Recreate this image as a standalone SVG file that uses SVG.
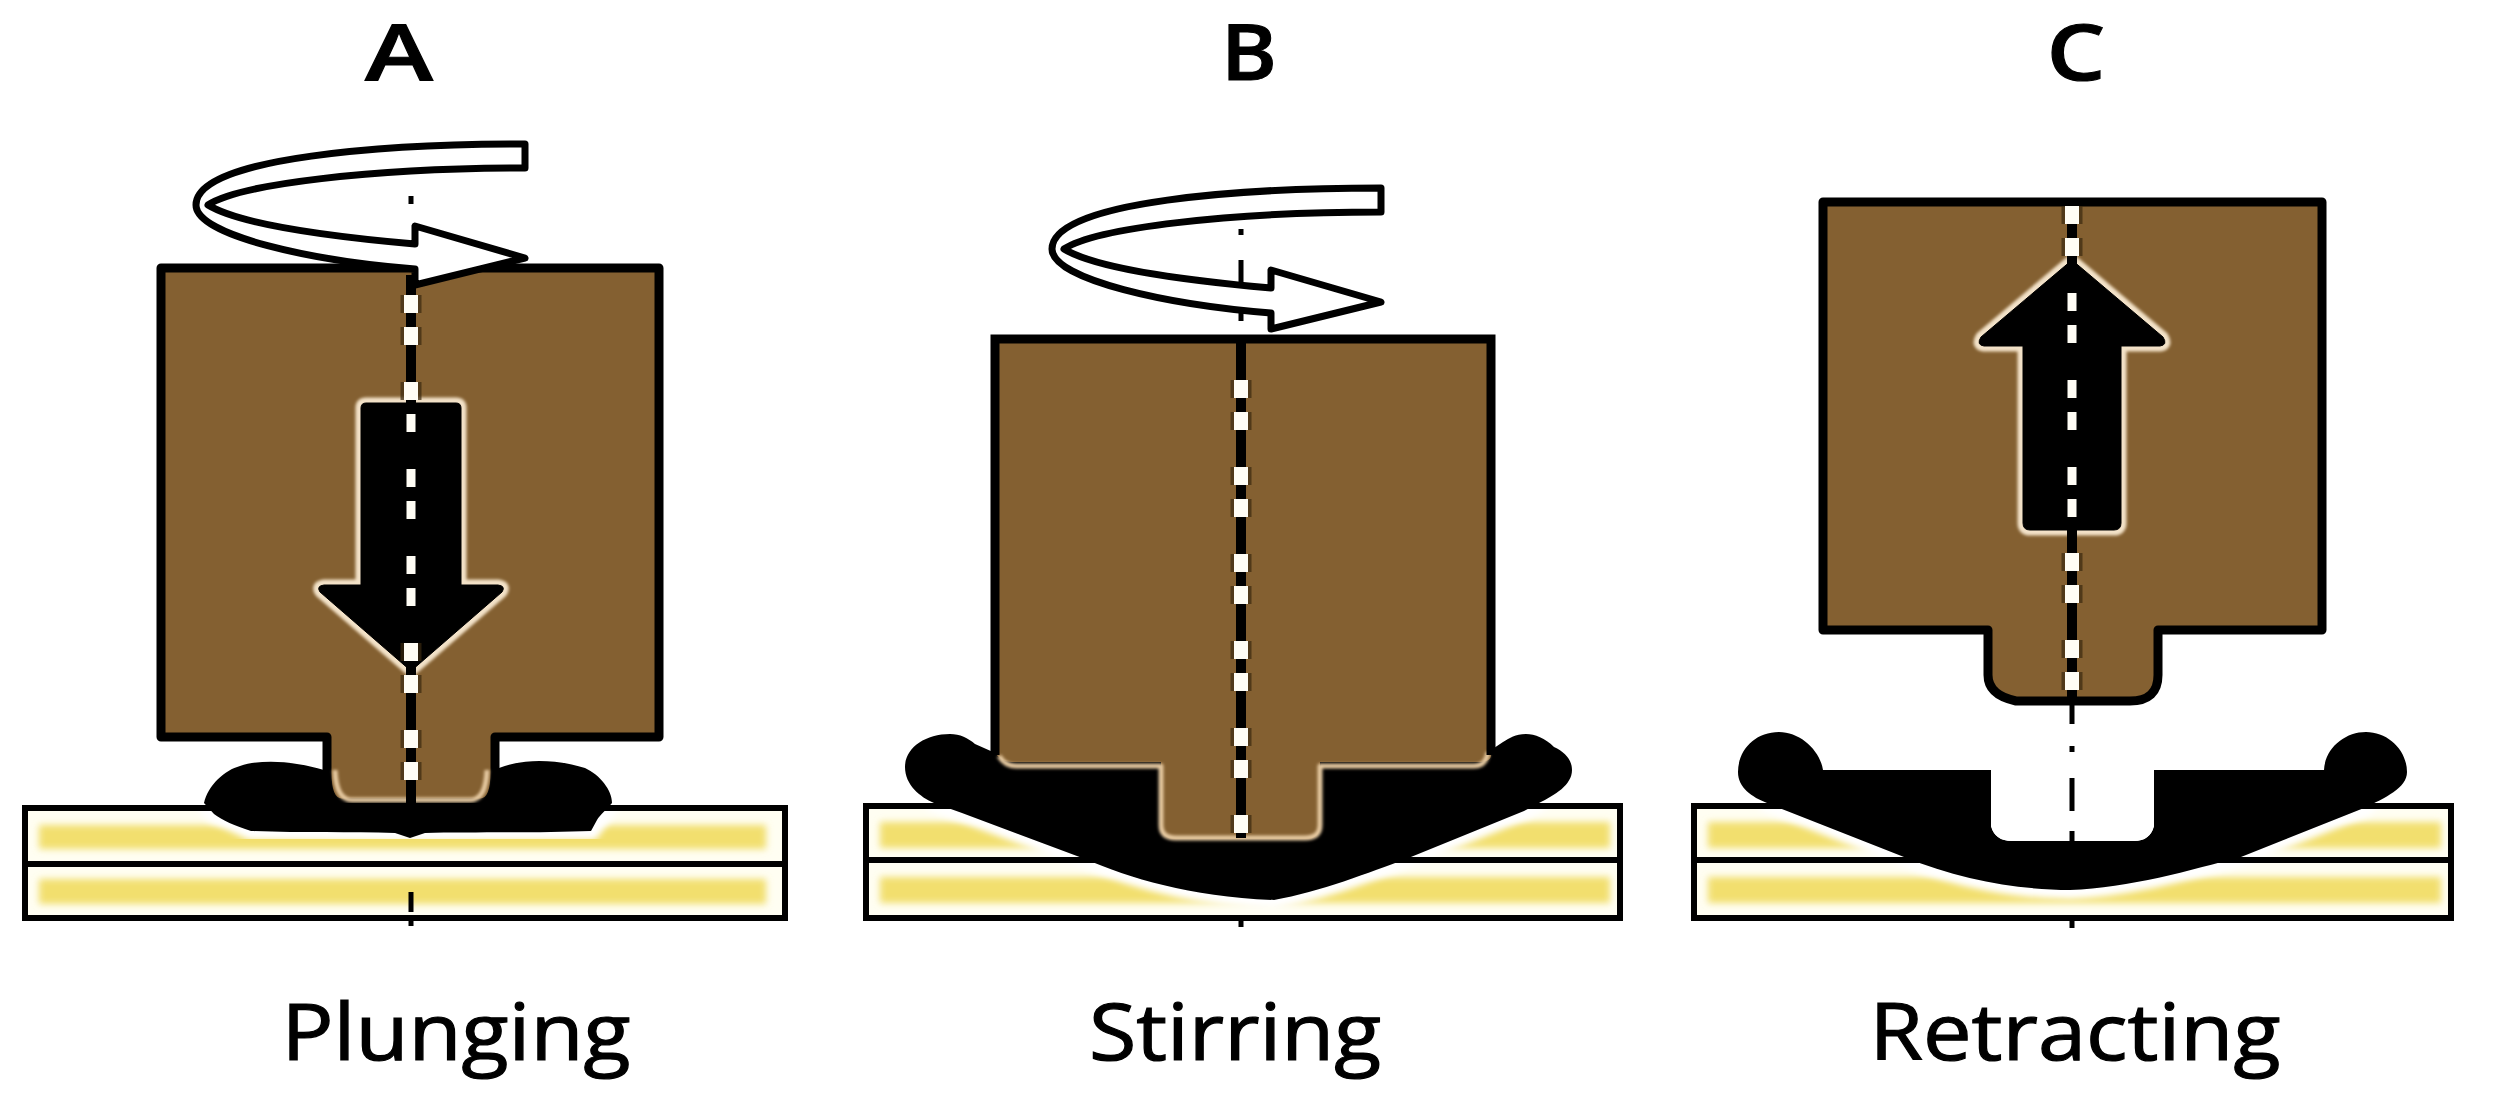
<svg xmlns="http://www.w3.org/2000/svg" width="2512" height="1102" viewBox="0 0 2512 1102">
<style>
.bg{fill:#fff}
.plate{fill:#fffef2}
.band{fill:#f2df6e;filter:url(#b4)}
.line{fill:none;stroke:#000;stroke-width:6}
.blob{fill:#000}
.halo{fill:#fff;stroke:#fff;stroke-width:18;stroke-linejoin:round;filter:url(#b3)}
.block{fill:#846031;stroke:#000;stroke-width:9;stroke-linejoin:round}
.bodyfill{fill:#846031}
.fringe{fill:none;stroke:#e6c9a0;stroke-width:5;stroke-linejoin:round;filter:url(#b2)}
.arrh{fill:none;stroke:#f3e2c8;stroke-width:11;stroke-linejoin:round;filter:url(#b2)}
.arr{fill:#000;stroke:#000;stroke-width:1;stroke-linejoin:round}
.spin{fill:#fff;stroke:#000;stroke-width:7;stroke-linejoin:round}
.axb{stroke:#000;stroke-width:10;fill:none}
.axe{stroke:#3a2a10;stroke-width:21;stroke-dasharray:18 14 18 37;fill:none;opacity:.7}
.axw{stroke:#fffdf5;stroke-width:14;stroke-dasharray:18 14 18 37;fill:none}
.axa{stroke:#fffdf5;stroke-width:9;stroke-dasharray:18 14 18 37;fill:none}
.ax{stroke:#000;stroke-width:5;fill:none}
.t{font-family:"Open Sans","Liberation Sans",sans-serif;fill:#000;text-anchor:middle}
.h{font-size:78px;font-weight:600;stroke:#000;stroke-width:1}
.l{font-size:78px;stroke:#000;stroke-width:1.2}
</style>
<defs>
<filter id="b2" x="-10%" y="-10%" width="120%" height="120%"><feGaussianBlur stdDeviation="1.6"/></filter>
<filter id="b3" x="-10%" y="-20%" width="120%" height="140%"><feGaussianBlur stdDeviation="3"/></filter>
<filter id="b4" x="-5%" y="-40%" width="110%" height="180%"><feGaussianBlur stdDeviation="3.5"/></filter>
<path id="spinner" d="M1381,188 C1250,188 1052,200 1052,249 C1052,280 1170,305 1271,313 L1271,329 L1381,302 L1271,270 L1271,288 C1180,280 1095,268 1064,249 C1095,228 1230,212 1381,212 Z"/>
<path id="arrow-down" d="M361,408 Q361,403 366,403 H456 Q461,403 461,408 V585 H498 Q506,586 502,592 L411,671 L320,592 Q316,586 324,585 H361 Z"/>
<path id="arrow-up" d="M2072,260 L2163,337 Q2168,345 2160,346 H2121 V523 Q2121,530 2114,530 H2030 Q2023,530 2023,523 V346 H1984 Q1976,345 1981,337 Z"/>
</defs>
<rect class="bg" width="2512" height="1102"/>

<g id="panel-a">
<g id="plate-a">
<rect class="plate" x="25" y="808" width="760" height="110"/>
<rect class="band" x="39" y="825" width="727" height="24"/>
<rect class="band" x="39" y="879" width="727" height="25"/>
<path class="halo" d="M204,803 L214,814 L251,831 L418,833 L591,831 L612,803 Z"/>
<path class="line" d="M25,808H785V918H25ZM25,864H785"/>
</g>
<path class="blob" d="M204,803 C208,785 225,770 240,766 C265,758 300,762 330,772 L490,772 C520,756 560,760 585,768 C600,775 612,790 612,803 C606,810 600,815 597,820 L591,831 C540,833 470,832 425,833 L410,838 L395,833 C350,832 300,833 251,831 C235,826 222,820 214,814 Z"/>
<path class="ax" d="M411,892V912M411,920V926M411,196V204"/>
<path class="block" d="M161,268 H659 V737 H495 V772 Q495,803 480,803 H342 Q327,803 327,772 V737 H161 Z"/>
<path class="fringe" d="M335,770 Q336,800 352,800 H470 Q486,800 487,770"/>
<use href="#arrow-down" class="arrh"/>
<use href="#arrow-down" class="arr"/>
<path class="axb" d="M411,275V806"/>
<path class="axe" d="M411,295V405"/>
<path class="axe" d="M411,643V790"/>
<path class="axw" d="M411,295V405"/>
<path class="axa" d="M411,414V660" stroke-dashoffset="32"/>
<path class="axw" d="M411,643V790"/>
<use href="#spinner" class="spin" x="-856" y="-44"/>
</g>

<g id="panel-b">
<g id="plate-b">
<rect class="plate" x="866" y="806" width="754" height="112"/>
<rect class="band" x="880" y="822" width="730" height="26"/>
<rect class="band" x="880" y="877" width="730" height="26"/>
<path class="halo" d="M905,767 L934,803 L962,813 L1085,859 C1130,878 1190,897 1274,900 C1320,892 1370,872 1406,859 L1524,811 L1539,803 L1572,770 L1488,752 L993,752 Z"/>
<path class="line" d="M866,806H1620V918H866ZM866,860H1620"/>
</g>
<path class="blob" d="M950,734 C925,734 905,748 905,767 C905,785 920,797 934,803 L962,813 L1085,859 C1130,878 1190,897 1274,900 C1320,892 1370,872 1406,859 L1524,811 L1539,803 C1555,795 1572,785 1572,770 C1572,760 1565,752 1554,747 C1545,738 1535,734 1526,734 C1515,734 1510,738 1503,742 L1488,752 L993,752 L975,744 C968,738 960,734 950,734 Z"/>
<path class="bodyfill" d="M995,339 H1491 V755 Q1491,762 1478,762 H1320 V825 Q1320,839 1305,839 H1176 Q1161,839 1161,825 V762 H1012 Q1000,762 995,752 Z"/>
<path class="fringe" d="M999,756 Q1005,766 1016,766 H1161 V825 Q1161,838 1176,838 H1305 Q1320,838 1320,825 V766 H1474 Q1486,766 1488,752"/>
<path class="line" style="stroke-width:9" d="M995,755V339H1491V755"/>
<path class="axb" d="M1241,340V838"/>
<path class="axe" d="M1241,380V835"/>
<path class="axw" d="M1241,380V835"/>
<path class="ax" d="M1241,229V235M1241,260V285M1241,313V321M1241,920V927"/>
<use href="#spinner" class="spin"/>
</g>

<g id="panel-c">
<g id="plate-c">
<rect class="plate" x="1694" y="806" width="757" height="112"/>
<rect class="band" x="1708" y="822" width="733" height="26"/>
<rect class="band" x="1708" y="877" width="733" height="26"/>
<path class="halo" d="M1738,770 L1767,803 L1787,811 L1904,857 C1960,880 2020,890 2070,890 C2130,888 2190,870 2241,857 L2364,808 L2407,772 L2324,770 H1818 Z"/>
<path class="line" d="M1694,806H2451V918H1694ZM1694,860H2451"/>
</g>
<rect class="bg" x="1985" y="770" width="175" height="60"/>
<path class="blob" d="M1779,732 C1755,732 1738,750 1738,772 C1738,788 1752,797 1767,803 L1787,811 L1904,857 C1960,880 2020,890 2070,890 C2130,888 2190,870 2241,857 L2364,808 C2385,798 2407,788 2407,772 C2407,750 2388,732 2366,732 C2345,732 2325,748 2324,770 H2154 V826 Q2150,841 2134,841 H2012 Q1995,841 1991,826 V770 H1823 C1820,750 1800,732 1779,732 Z"/>
<path class="bg" d="M1991,775 H2154 V826 Q2150,841 2134,841 H2012 Q1995,841 1991,826 Z"/>
<path class="block" d="M1823,202 H2322 V630 H2158 V675 Q2158,701 2130,701 H2016 Q1988,695 1988,675 V630 H1823 Z"/>
<use href="#arrow-up" class="arrh"/>
<use href="#arrow-up" class="arr"/>
<path class="axb" d="M2072,205V698"/>
<path class="axe" d="M2072,206V260"/>
<path class="axw" d="M2072,206V260"/>
<path class="axa" d="M2072,293V520"/>
<path class="axe" d="M2072,553V695"/>
<path class="axw" d="M2072,553V695"/>
<path class="ax" d="M2072,704V724M2072,746V752M2072,778V811M2072,831V857M2072,920V928"/>
</g>

<text class="t h" x="399" y="80" textLength="68" lengthAdjust="spacingAndGlyphs">A</text>
<text class="t h" x="1249" y="80" textLength="56" lengthAdjust="spacingAndGlyphs">B</text>
<text class="t h" x="2076" y="80" textLength="59" lengthAdjust="spacingAndGlyphs">C</text>
<text class="t l" x="456" y="1060" textLength="349" lengthAdjust="spacingAndGlyphs">Plunging</text>
<text class="t l" x="1235" y="1060" textLength="292" lengthAdjust="spacingAndGlyphs">Stirring</text>
<text class="t l" x="2075" y="1060" textLength="411" lengthAdjust="spacingAndGlyphs">Retracting</text>
</svg>
